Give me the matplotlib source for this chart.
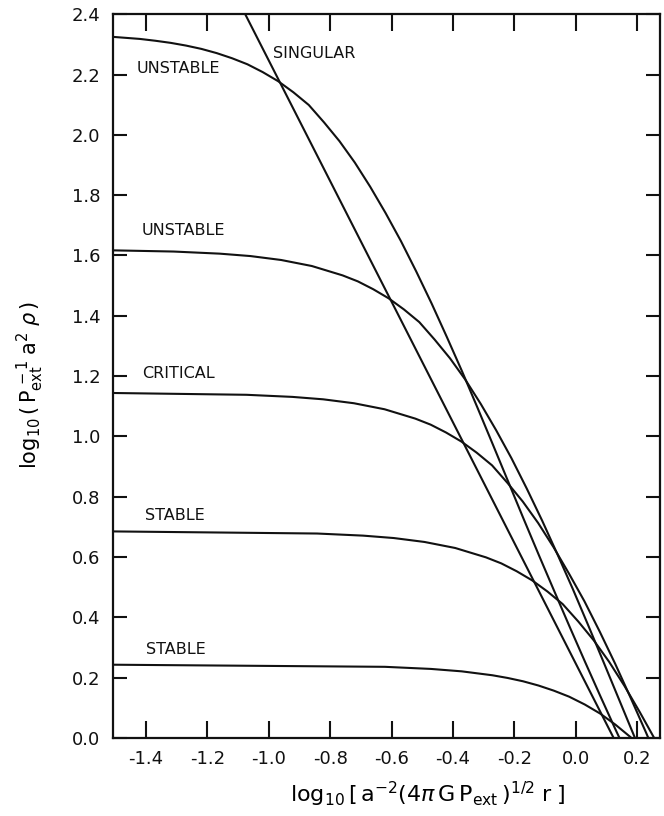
import matplotlib
matplotlib.use("Agg")
import matplotlib.pyplot as plt

plt.rcParams['font.family'] = ['DejaVu Sans']
plt.rcParams['axes.unicode_minus'] = False
plt.rcParams['mathtext.fontset'] = 'dejavusans'

# values (log10 of radius, log10 of density)
x_unstable_hi = [-1.51, -1.42, -1.37, -1.32, -1.27, -1.22, -1.17, -1.12, -1.07, -1.02,
                 -0.97, -0.92, -0.87, -0.82, -0.77, -0.72, -0.67, -0.62, -0.57, -0.52,
                 -0.47, -0.42, -0.37, -0.32, -0.27, -0.22, -0.17, -0.12, -0.07, -0.02,
                 0.03, 0.08, 0.13, 0.142]
y_unstable_hi = [2.325, 2.318, 2.312, 2.305, 2.296, 2.285, 2.271, 2.254, 2.234, 2.208,
                 2.178, 2.141, 2.099, 2.041, 1.979, 1.908, 1.828, 1.741, 1.648, 1.547,
                 1.441, 1.329, 1.214, 1.094, 0.972, 0.849, 0.726, 0.605, 0.486, 0.368,
                 0.252, 0.138, 0.026, 0.0]

x_unstable_lo = [-1.51, -1.31, -1.16, -1.06, -0.96, -0.86, -0.76, -0.71, -0.66, -0.61,
                 -0.56, -0.51, -0.46, -0.41, -0.36, -0.31, -0.26, -0.21, -0.16, -0.11,
                 -0.06, -0.01, 0.04, 0.09, 0.14, 0.19, 0.1925]
y_unstable_lo = [1.617, 1.613, 1.606, 1.598, 1.585, 1.565, 1.534, 1.514, 1.488, 1.458,
                 1.421, 1.379, 1.321, 1.259, 1.188, 1.108, 1.021, 0.928, 0.827, 0.721,
                 0.609, 0.494, 0.374, 0.252, 0.129, 0.006, 0.0]

x_critical = [-1.51, -1.073, -0.923, -0.823, -0.723, -0.623, -0.523, -0.473, -0.423, -0.373,
              -0.323, -0.273, -0.223, -0.173, -0.123, -0.073, -0.023, 0.028, 0.078, 0.128,
              0.178, 0.228, 0.236]
y_critical = [1.144, 1.138, 1.131, 1.123, 1.110, 1.090, 1.059, 1.039, 1.013, 0.983,
              0.946, 0.904, 0.846, 0.784, 0.713, 0.633, 0.546, 0.453, 0.352, 0.246,
              0.134, 0.019, 0.0]

x_stable_hi = [-1.51, -0.843, -0.693, -0.593, -0.493, -0.393, -0.293, -0.243, -0.193, -0.143,
               -0.093, -0.043, 0.008, 0.058, 0.108, 0.158, 0.208, 0.255]
y_stable_hi = [0.685, 0.678, 0.671, 0.663, 0.650, 0.630, 0.599, 0.579, 0.553, 0.523,
               0.486, 0.444, 0.386, 0.324, 0.253, 0.173, 0.086, 0.0]

x_stable_lo = [-1.51, -0.622, -0.472, -0.372, -0.272, -0.222, -0.172, -0.122, -0.072, -0.022,
               0.029, 0.079, 0.129, 0.179, 0.180]
y_stable_lo = [0.243, 0.236, 0.229, 0.221, 0.208, 0.199, 0.188, 0.174, 0.157, 0.137,
               0.111, 0.081, 0.044, 0.002, 0.0]

x_singular = [-1.077, 0.123]
y_singular = [2.4, 0.0]

labels = ["UNSTABLE", "SINGULAR", "UNSTABLE", "CRITICAL", "STABLE", "STABLE"]
label_x = [-1.431, -0.988, -1.416, -1.412, -1.405, -1.40]
label_y = [2.221, 2.27, 1.684, 1.21, 0.739, 0.292]

x_ticks = [-1.4, -1.2, -1.0, -0.8, -0.6, -0.4, -0.2, 0.0, 0.2]
y_ticks = [0.0, 0.2, 0.4, 0.6, 0.8, 1.0, 1.2, 1.4, 1.6, 1.8, 2.0, 2.2, 2.4]

fig = plt.figure(figsize=(6.64, 8.16), dpi=100)
ax = fig.add_axes([0.170, 0.0956, 0.824, 0.887])

curves = [(x_unstable_hi, y_unstable_hi), (x_unstable_lo, y_unstable_lo),
          (x_critical, y_critical), (x_stable_hi, y_stable_hi),
          (x_stable_lo, y_stable_lo), (x_singular, y_singular)]
for xs, ys in curves:
    ax.plot(xs, ys, "-", color="#111111", lw=1.5, solid_joinstyle="round")

for txt, tx, ty in zip(labels, label_x, label_y):
    ax.text(tx, ty, txt, ha="left", va="center", fontsize=11.5, color="#111111")

ax.set_xlim(-1.508, 0.274)
ax.set_ylim(0.0, 2.4)
ax.set_xticks(x_ticks)
ax.set_xticklabels(["%.1f" % v for v in x_ticks])
ax.set_yticks(y_ticks)
ax.set_yticklabels(["%.1f" % v for v in y_ticks])

ax.tick_params(axis="x", direction="in", length=12, width=1.5, top=True,
               labelsize=13, pad=9, colors="#111111")
ax.tick_params(axis="y", direction="in", length=10, width=1.5, right=True,
               labelsize=13, pad=9, colors="#111111")
for sp in ax.spines.values():
    sp.set_linewidth(1.6)
    sp.set_color("#111111")

ax.set_xlabel(r"$\mathrm{log_{10}}\,[\,\mathrm{a}^{-2}(4\pi\,\mathrm{G}\,\mathrm{P_{ext}}\,)^{1/2}\;\mathrm{r}\;]$",
              fontsize=16)
ax.xaxis.set_label_coords(0.576, -0.058)
ax.set_ylabel(r"$\mathrm{log_{10}}\,(\,\mathrm{P_{ext}^{\,-1}}\;\mathrm{a}^{2}\;\rho\,)$",
              fontsize=15)
ax.yaxis.set_label_coords(-0.123, 0.488)

fig.savefig("out.png", dpi=100)
